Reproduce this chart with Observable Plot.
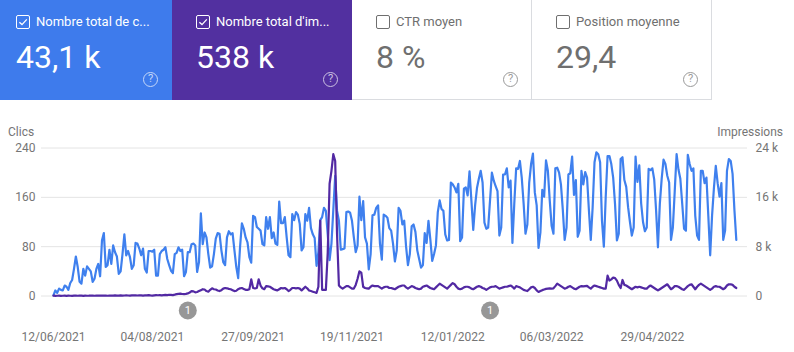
<!DOCTYPE html>
<html><head><meta charset="utf-8">
<script src="https://cdn.jsdelivr.net/npm/d3@7"></script>
<script src="https://cdn.jsdelivr.net/npm/@observablehq/plot@0.6"></script>
<style>
html,body{margin:0;padding:0;background:#fff;width:794px;height:352px;overflow:hidden;font-family:Roboto,sans-serif}
.card{position:absolute;top:0;height:100px;box-sizing:border-box;color:#fff}
.card.off{color:#6f6f6f;background:#fff;border-bottom:1px solid #dadce0;border-right:1px solid #dadce0;height:100px}
.box{position:absolute;left:16px;top:15px;width:14px;height:14px;box-sizing:border-box;border:1px solid currentColor;border-radius:2px}
.box svg{position:absolute;left:0;top:0}
.ttl{position:absolute;top:14px;font-size:13px;line-height:16px;white-space:nowrap}
.val{position:absolute;top:38px;font-size:32px;line-height:38px;white-space:nowrap}
.q{position:absolute;top:72px;width:15px;height:15px;box-sizing:border-box;border:1.3px solid currentColor;border-radius:50%;font-size:11px;line-height:12.5px;text-align:center;opacity:.7}
#hdrL,#hdrR{position:absolute;top:125px;font-size:12px;line-height:14px;color:#757575}
#chart{position:absolute;left:0;top:120px}
#chart svg{display:block}
</style></head><body>
<div id="cards"></div>
<div id="hdrL"></div><div id="hdrR"></div>
<div id="chart"></div>
<script>
const startDate = "2021-06-12";
const cardTitles = ["Nombre total de c...", "Nombre total d'im...", "CTR moyen", "Position moyenne"];
const cardValues = ["43,1 k", "538 k", "8 %", "29,4"];
const cardChecked = [true, true, false, false];
const cardColors = ["#3e7bec", "#5230a0", "#fff", "#fff"];
const cardLeft = [0, 172, 352, 532];
const cardWidth = [172, 180, 180, 180];
const cardPad = [16, 24, 24, 24];
const leftTitle = "Clics";
const rightTitle = "Impressions";
const clickTicks = [0, 80, 160, 240];
const imprTickLabels = ["0", "8 k", "16 k", "24 k"];
const dateTicks = ["2021-06-12","2021-08-04","2021-09-27","2021-11-19","2022-01-12","2022-03-06","2022-04-29"];
const annotationDates = ["2021-08-23", "2022-02-01"];
const annotationLabels = ["1", "1"];

const clicks = [
1,9,5,12,10,9,17,15,10,21,
26,44,64,47,23,20,44,33,48,44,
40,23,28,44,52,32,90,102,47,50,
75,52,82,71,64,36,40,68,100,66,
73,63,44,50,86,85,77,66,77,44,
38,73,73,72,75,33,33,68,73,75,
79,60,50,41,37,68,70,79,73,75,
32,39,71,71,84,85,82,39,55,134,
84,103,95,68,46,48,68,93,102,101,
74,55,50,95,105,100,102,74,47,29,
79,118,109,95,87,63,54,130,128,112,
109,106,84,82,128,109,
128,94,103,85,83,153,118,118,128,95,66,63,
133,123,136,132,117,74,79,
133,122,143,110,100,94,49,71,
123,128,143,138,100,58,85,140,195,138,122,75,76,77,
136,137,135,122,95,71,82,161,123,154,95,85,43,68,
131,132,143,147,85,59,132,130,127,110,106,85,56,74,
143,138,116,122,80,50,68,113,116,104,74,60,46,50,
102,86,122,92,57,68,82,136,155,141,138,100,90,91,
184,181,176,168,182,89,95,174,176,163,202,155,107,147,
175,190,203,184,119,109,111,155,200,187,178,170,98,111,
197,197,207,176,187,86,150,207,206,219,192,150,101,116,
184,214,231,168,147,78,103,172,161,220,203,155,114,101,
207,208,200,181,140,91,111,197,199,226,164,188,96,106,
203,181,201,192,139,91,144,217,233,230,217,122,80,160,
227,227,214,192,149,90,101,222,225,188,177,144,120,98,111,
226,185,212,150,120,105,111,206,204,207,189,139,79,149,
190,221,214,195,184,91,111,170,230,205,190,150,109,106,
229,214,203,207,130,98,91,203,203,183,192,130,66,130,
175,211,183,161,183,91,106,203,222,219,198,139,91];

const impressions = [
50,30,40,60,30,40,50,30,60,40,
30,50,60,40,70,50,30,60,40,50,
80,60,40,70,50,60,80,50,70,40,
60,80,60,100,70,60,90,70,80,100,
80,60,100,90,110,80,120,100,70,90,
110,130,90,60,100,130,120,150,110,140,
170,140,200,180,150,220,300,350,380,320,
300,350,420,550,800,750,600,650,800,950,
1100,1050,800,700,1000,1250,1100,1050,900,800,
950,1200,1300,1250,1150,1100,950,800,850,1100,
1250,1300,1150,1000,1000,1100,2700,1300,1250,1300,
2700,1700,1250,1100,1600,1550,1500,1300,1100,1000,
900,1100,1300,1250,1300,1100,800,1000,1300,1300,
1250,1300,1200,900,1200,1500,1250,900,800,700,
600,500,1500,12200,1000,1000,1000,7000,18200,20300,
23000,21900,10000,1700,1400,1200,1400,1600,1600,1400,
1200,1200,1800,2800,4000,3800,1500,1300,1250,1200,
1500,1700,1600,1600,1600,1400,1200,1400,1500,1500,
1300,1300,1200,1100,1300,1500,1600,1700,1700,1400,
1200,1400,1600,1500,1300,1200,1100,1200,1500,1600,
1700,1500,1300,1200,1100,1400,1700,2000,1800,1600,
1400,1200,1500,1800,2100,1900,1500,1200,1100,1200,
1400,1500,1500,1400,1200,1100,1300,1500,1600,1500,
1300,1200,1000,1200,1400,1500,1500,1600,1400,1200,
1300,1400,1500,1500,1600,1700,1500,1200,1600,1500,
1400,1200,1000,900,800,1100,1400,1500,1300,900,
650,800,950,1050,1150,1200,1250,1200,1250,1600,
2000,1800,1600,1400,1200,1300,1500,1600,1400,1200,
1100,1300,1500,1600,1550,1600,1650,1400,1200,1500,
1700,1600,1500,1400,1300,1200,1200,3300,2500,2700,
3000,2900,2500,1800,1300,2600,1800,1700,1500,1300,
1100,1300,1500,1400,1500,1400,1300,1200,1200,1500,
1700,1500,1300,1100,900,1100,1300,1500,1700,1900,
1500,1100,1300,1600,1600,1500,1300,1100,1000,1300,
1600,1800,1900,1500,1100,1500,1800,2000,1800,1600,
1400,1200,1000,1200,1500,1600,1500,1500,1300,1100,
1300,1700,1900,1900,1800,1500,1300];

const toDate = i => d3.utcDay.offset(new Date(startDate), i);
const clickRows = clicks.map((v, i) => ({date: toDate(i), v}));
const imprRows = impressions.map((v, i) => ({date: toDate(i), v}));
const annRows = annotationDates.map((d, i) => ({date: new Date(d), label: annotationLabels[i]}));

const cards = document.getElementById("cards");
cardTitles.forEach((t, i) => {
  const c = document.createElement("div");
  c.className = "card" + (cardChecked[i] ? "" : " off");
  c.style.left = cardLeft[i] + "px";
  c.style.width = cardWidth[i] + "px";
  c.style.background = cardColors[i];
  const pad = cardPad[i];
  c.innerHTML =
    `<div class="box" style="left:${pad}px">${cardChecked[i] ? '<svg width="12" height="12" viewBox="0 0 12 12"><path d="M2.4 6.2 L5 8.6 L9.8 3.4" fill="none" stroke="#fff" stroke-width="1.3"/></svg>' : ""}</div>` +
    `<div class="ttl" style="left:${pad + 20}px">${t}</div>` +
    `<div class="val" style="left:${pad}px">${cardValues[i]}</div>` +
    `<div class="q" style="left:${cardWidth[i] - 29}px">?</div>`;
  cards.appendChild(c);
});
document.getElementById("hdrL").textContent = leftTitle;
document.getElementById("hdrL").style.left = "8px";
document.getElementById("hdrR").textContent = rightTitle;
document.getElementById("hdrR").style.right = "11px";

const plot = Plot.plot({
  width: 794,
  height: 232,
  marginLeft: 41,
  marginRight: 47,
  marginTop: 27.5,
  marginBottom: 56.5,
  style: {fontFamily: "Roboto, sans-serif", fontSize: "12px", color: "#757575", background: "transparent"},
  x: {type: "utc", domain: [new Date("2021-06-05T14:00:00Z"), new Date("2022-06-19T00:00:00Z")]},
  y: {domain: [0, 240]},
  marks: [
    Plot.gridY(clickTicks, {stroke: "#e4e4e4", strokeOpacity: 1, strokeWidth: 1}),
    Plot.axisY({anchor: "left", ticks: clickTicks, tickSize: 0, tickPadding: 6, label: null}),
    Plot.axisY({anchor: "right", ticks: clickTicks, tickSize: 0, tickPadding: 8, label: null,
      tickFormat: v => imprTickLabels[clickTicks.indexOf(v)]}),
    Plot.axisX({ticks: dateTicks.map(d => new Date(d)), tickSize: 0, tickPadding: 36, label: null,
      tickFormat: d3.utcFormat("%d/%m/%Y")}),
    Plot.lineY(clickRows, {x: "date", y: "v", stroke: "#3f80ee", strokeWidth: 2.2, strokeLinejoin: "round"}),
    Plot.lineY(imprRows, {x: "date", y: d => d.v / 100, stroke: "#5229a3", strokeWidth: 2.2, strokeLinejoin: "round"}),
    Plot.dot(annRows, {x: "date", y: () => -23.5, r: 9, fill: "#979797"}),
    Plot.text(annRows, {x: "date", y: () => -23.5, text: "label", fill: "#fff", fontSize: 11})
  ]
});
document.getElementById("chart").appendChild(plot);
</script>
</body></html>
